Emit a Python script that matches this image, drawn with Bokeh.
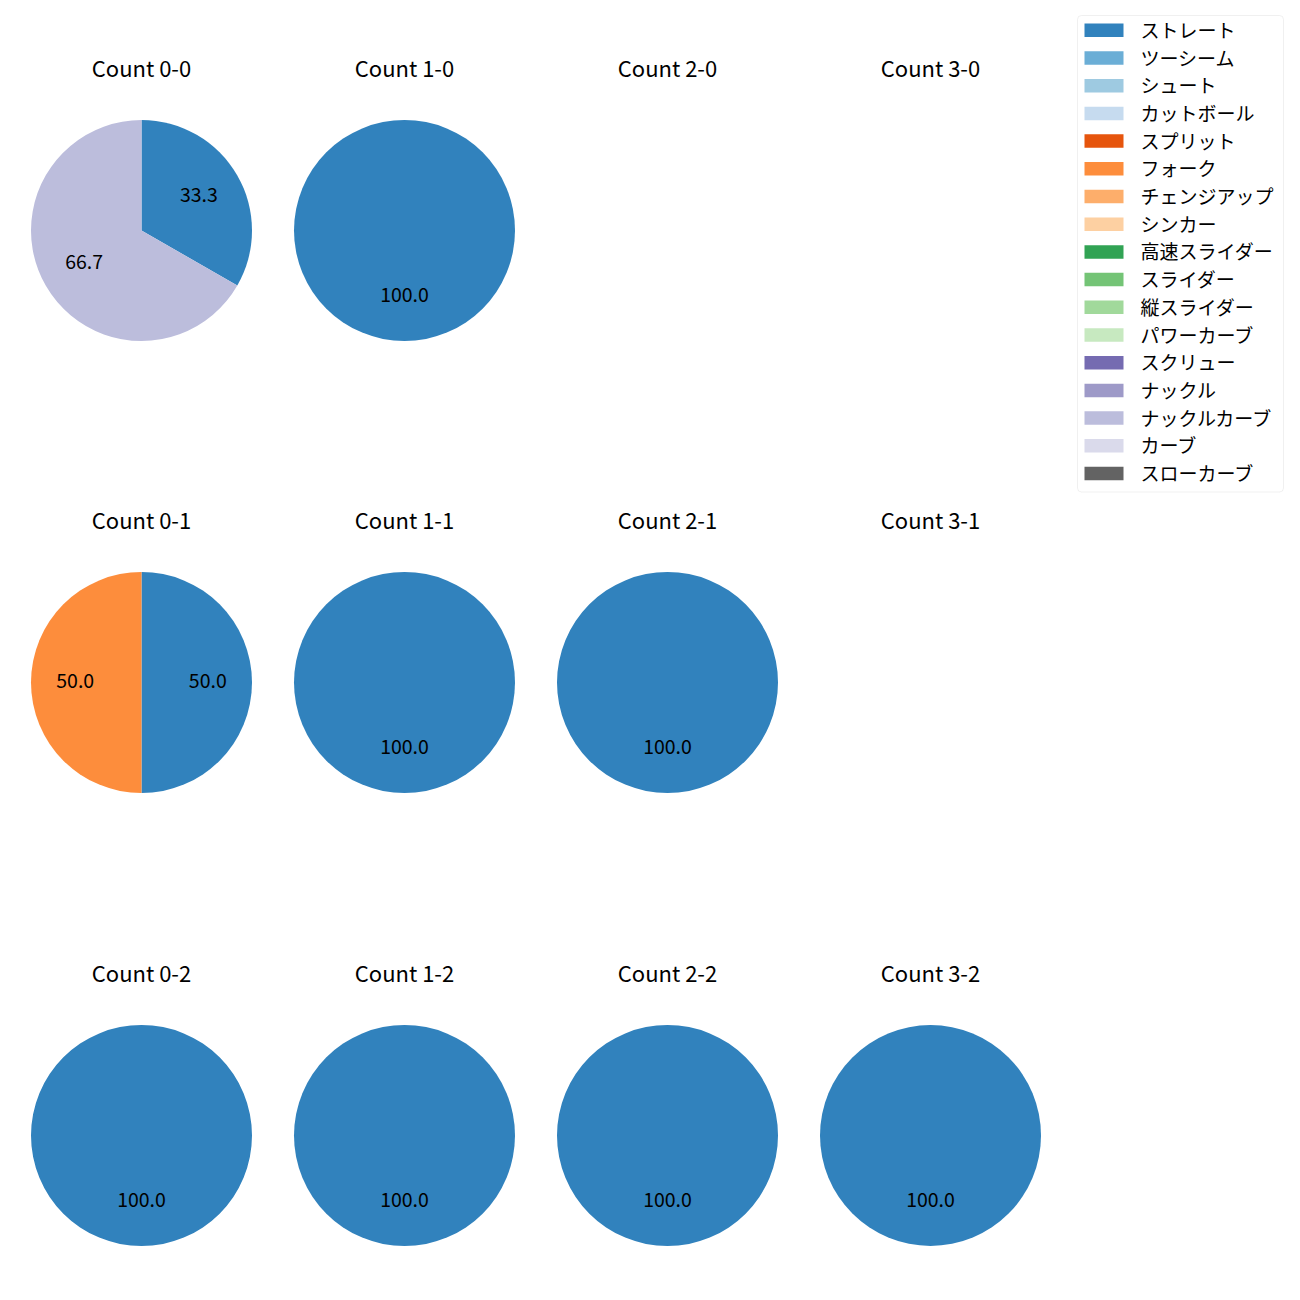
import math
from bokeh.plotting import figure
from bokeh.models import Range1d, BoxAnnotation
from bokeh.core.properties import value
from bokeh.embed import file_html
from bokeh.resources import INLINE

# ---------------- data ----------------
pitch_types = ["ストレート", "ツーシーム", "シュート", "カットボール", "スプリット", "フォーク",
               "チェンジアップ", "シンカー", "高速スライダー", "スライダー", "縦スライダー",
               "パワーカーブ", "スクリュー", "ナックル", "ナックルカーブ", "カーブ", "スローカーブ"]
pitch_colors = ["#3182bd", "#6baed6", "#9ecae1", "#c6dbef", "#e6550d", "#fd8d3c",
                "#fdae6b", "#fdd0a2", "#31a354", "#74c476", "#a1d99b", "#c7e9c0",
                "#756bb1", "#9e9ac8", "#bcbddc", "#dadaeb", "#636363"]

balls = [0, 1, 2, 3]
strikes = [0, 1, 2]
# share (%) per panel, panels ordered: strikes 0 (balls 0..3), strikes 1, strikes 2
straight_pct = [33.3, 100.0, 0, 0, 50.0, 100.0, 100.0, 0, 100.0, 100.0, 100.0, 100.0]
fork_pct = [0, 0, 0, 0, 50.0, 0, 0, 0, 0, 0, 0, 0]
knuckle_curve_pct = [66.7, 0, 0, 0, 0, 0, 0, 0, 0, 0, 0, 0]

panel_series = {"ストレート": straight_pct, "フォーク": fork_pct, "ナックルカーブ": knuckle_curve_pct}

# ---------------- layout ----------------
S = 1284
FONT = "Noto Sans CJK JP"
col_x = [141, 404, 667, 930]
row_y = [230, 682, 1135]
R = 110.5
title_dy = 164
label_dy = -2.5

p = figure(width=S, height=S, output_backend="svg", toolbar_location=None,
           x_range=Range1d(0, S), y_range=Range1d(0, S),
           x_axis_type=None, y_axis_type=None, min_border=0)
p.grid.visible = False
p.outline_line_color = None

def Y(py):
    return S - py

for si, s in enumerate(strikes):
    for bi, b in enumerate(balls):
        idx = si * len(balls) + bi
        cx, cy = col_x[bi], Y(row_y[si])
        p.text(x=[cx], y=[Y(row_y[si] - title_dy)], text=[f"Count {b}-{s}"],
               text_align="center", text_baseline="middle",
               text_font=value(FONT), text_font_size="22px", text_color="black")
        total = sum(panel_series[n][idx] for n in panel_series)
        if total <= 0:
            continue
        cum = 0.0
        for name, color in zip(pitch_types, pitch_colors):
            if name not in panel_series:
                continue
            v = panel_series[name][idx]
            if v <= 0:
                continue
            frac = v / total
            a0 = math.pi / 2 - 2 * math.pi * cum
            a1 = math.pi / 2 - 2 * math.pi * (cum + frac)
            if frac >= 0.999999:
                p.circle(x=[cx], y=[cy], radius=R, fill_color=color, line_color=None)
            else:
                p.wedge(x=[cx], y=[cy], radius=R, start_angle=a0, end_angle=a1,
                        direction="clock", fill_color=color, line_color=None)
            am = math.pi / 2 - 2 * math.pi * (cum + frac / 2)
            p.text(x=[cx + 0.6 * R * math.cos(am)],
                   y=[cy + 0.6 * R * math.sin(am) - label_dy],
                   text=[f"{v:.1f}"], text_align="center", text_baseline="middle",
                   text_font=value(FONT), text_font_size="19.5px", text_color="black")
            cum += frac

# ---------------- legend ----------------
leg_left, leg_right, leg_top, leg_bottom = 1077, 1283, 15, 491.5
p.add_layout(BoxAnnotation(left=leg_left, right=leg_right, top=Y(leg_top), bottom=Y(leg_bottom),
                           fill_color="white", fill_alpha=0.8, line_color="#cccccc",
                           line_width=1, border_radius=4, level="underlay"))
first_y, step = 29.8, 27.7
for i, (name, color) in enumerate(zip(pitch_types, pitch_colors)):
    yy = Y(first_y + i * step)
    p.rect(x=[1103.5], y=[yy], width=39, height=13.5, fill_color=color, line_color=None)
    p.text(x=[1140], y=[yy + 1], text=[name], text_align="left", text_baseline="middle",
           text_font=value(FONT), text_font_size="19px", text_color="black")

open("out.html", "w").write(file_html(p, INLINE))
